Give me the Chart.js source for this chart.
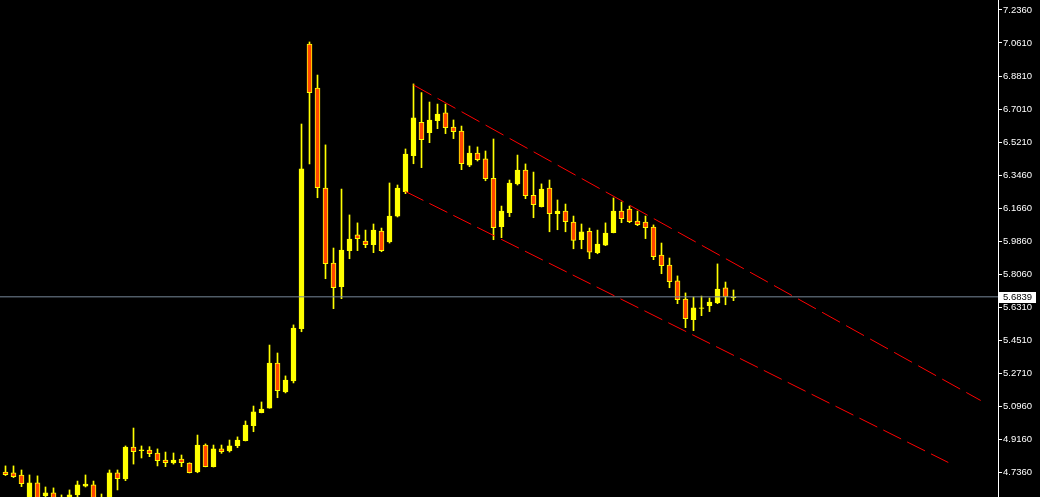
<!DOCTYPE html>
<html>
<head>
<meta charset="utf-8">
<script src="https://cdn.jsdelivr.net/npm/chart.js@4.4.1/dist/chart.umd.min.js"></script>
<style>
  html, body { margin: 0; padding: 0; background: #000; }
  #wrap { width: 1040px; height: 497px; }
</style>
</head>
<body>
<div id="wrap"><canvas id="priceChart" width="1040" height="497"></canvas></div>
<script>
// candles, oldest first (one per bar)
var opens = [4.736,4.731,4.720,4.585,4.677,4.606,4.623,4.531,4.574,4.612,
  4.660,4.666,4.558,4.585,4.731,4.698,4.871,4.851,4.855,4.839,
  4.801,4.785,4.806,4.785,4.736,4.882,4.765,4.861,4.850,4.878,
  4.905,4.987,5.057,5.082,5.326,5.169,5.229,5.512,7.052,6.814,
  6.273,5.867,5.739,5.934,6.019,5.986,5.966,6.040,5.981,6.121,
  6.253,6.448,6.628,6.572,6.637,6.679,6.603,6.581,6.397,6.462,
  6.430,6.325,6.063,6.139,6.295,6.370,6.233,6.172,6.273,6.134,
  6.148,6.089,5.993,6.039,5.923,5.964,6.031,6.148,6.159,6.094,
  6.089,6.062,5.910,5.856,5.770,5.672,5.560,5.621,5.636,5.651,
  5.732,5.679];
var highs = [4.769,4.769,4.747,4.720,4.715,4.655,4.650,4.612,4.639,4.687,
  4.720,4.687,4.617,4.747,4.747,4.877,4.974,4.877,4.873,4.861,
  4.844,4.839,4.828,4.786,4.936,4.888,4.882,4.882,4.909,4.926,
  5.012,5.093,5.115,5.423,5.380,5.256,5.532,6.619,7.063,6.884,
  6.506,5.948,6.267,6.127,6.084,6.045,6.078,6.056,6.300,6.289,
  6.484,6.836,6.789,6.738,6.727,6.727,6.641,6.608,6.500,6.495,
  6.473,6.538,6.175,6.316,6.451,6.403,6.359,6.295,6.316,6.208,
  6.186,6.121,6.078,6.056,6.045,6.084,6.219,6.197,6.175,6.148,
  6.121,6.073,5.975,5.894,5.797,5.705,5.683,5.688,5.678,5.862,
  5.764,5.721];
var lows = [4.717,4.706,4.657,4.563,4.568,4.590,4.563,4.503,4.552,4.595,
  4.655,4.568,4.541,4.574,4.639,4.689,4.779,4.812,4.819,4.769,
  4.765,4.779,4.765,4.731,4.732,4.764,4.763,4.837,4.844,4.868,
  4.904,4.954,5.056,5.081,5.138,5.164,5.218,5.495,6.403,6.220,
  5.782,5.620,5.674,5.890,5.934,5.950,5.923,5.928,5.975,6.116,
  6.242,6.404,6.383,6.518,6.594,6.567,6.540,6.372,6.388,6.419,
  6.312,5.993,6.004,6.118,6.289,6.215,6.112,6.170,6.036,6.047,
  6.036,5.944,5.944,5.890,5.917,5.961,6.030,6.085,6.085,6.069,
  5.999,5.885,5.809,5.733,5.647,5.517,5.501,5.582,5.604,5.647,
  5.641,5.663];
var closes = [4.722,4.711,4.673,4.677,4.590,4.623,4.585,4.585,4.612,4.666,
  4.671,4.585,4.595,4.731,4.700,4.871,4.846,4.856,4.835,4.797,
  4.786,4.801,4.786,4.732,4.882,4.765,4.861,4.846,4.878,4.909,
  4.990,5.061,5.077,5.326,5.176,5.234,5.515,6.376,6.789,6.275,
  5.863,5.733,5.937,5.997,5.999,5.966,6.045,5.934,6.121,6.273,
  6.457,6.652,6.534,6.641,6.673,6.599,6.578,6.404,6.462,6.426,
  6.323,6.058,6.148,6.300,6.370,6.231,6.183,6.267,6.134,6.148,
  6.091,5.989,6.035,5.925,5.970,6.029,6.148,6.107,6.091,6.074,
  6.058,5.901,5.852,5.766,5.668,5.566,5.624,5.625,5.656,5.726,
  5.685,5.6839];

// trend lines drawn on the chart: [bar index, price]
var upperLine = [[51, 6.8302], [121.9, 5.1230]];
var lowerLine = [[50, 6.2539], [117.85, 4.7875]];

var lastPrice = 5.6839;
var tickLabels = ["7.2360","7.0610","6.8810","6.7010","6.5210","6.3460","6.1660","5.9860",
  "5.8060","5.6310","5.4510","5.2710","5.0960","4.9160","4.7360"];

var bullColor = '#FFFF00';
var bearColor = '#FF4500';

function makeBodies() {
  return opens.map(function (o, i) { return { x: i, y: [o, closes[i]] }; });
}
function makeWicks() {
  return lows.map(function (l, i) { return { x: i, y: [l, highs[i]] }; });
}
function makeLine(pts) {
  return pts.map(function (p) { return { x: p[0], y: p[1] }; });
}

// ticks sit evenly between the first and last label
var tickTop = parseFloat(tickLabels[0]);
var tickBottom = parseFloat(tickLabels[tickLabels.length - 1]);
var tickStep = (tickTop - tickBottom) / (tickLabels.length - 1);

var xMin = -0.6875, xMax = 124.0625;

var priceTag = {
  id: 'priceTag',
  afterDraw: function (chart) {
    var ctx = chart.ctx;
    var y = chart.scales.y.getPixelForValue(lastPrice);
    ctx.save();
    ctx.fillStyle = '#FFFFFF';
    ctx.fillRect(999, Math.round(y) - 5, 37, 11);
    ctx.fillStyle = '#000000';
    ctx.font = '9.5px "Liberation Sans"';
    ctx.textBaseline = 'middle';
    ctx.fillText(lastPrice.toFixed(4), 1003, Math.round(y) + 0.5);
    ctx.restore();
  }
};

var chart = new Chart(document.getElementById('priceChart'), {
  type: 'bar',
  data: {
    datasets: [
      {
        type: 'line',
        data: makeLine(upperLine),
        borderColor: '#FF0000',
        borderWidth: 1,
        borderDash: [20.5, 7],
        pointRadius: 0,
        order: -2
      },
      {
        type: 'line',
        data: makeLine(lowerLine),
        borderColor: '#FF0000',
        borderWidth: 1,
        borderDash: [20, 6.7],
        pointRadius: 0,
        order: -2
      },
      {
        type: 'line',
        data: [{ x: xMin, y: lastPrice }, { x: xMax, y: lastPrice }],
        borderColor: '#778899',
        borderWidth: 1,
        pointRadius: 0,
        order: -1
      },
      {
        data: makeBodies(),
        grouped: false,
        barThickness: 5,
        backgroundColor: function (c) {
          var i = c.dataIndex;
          return closes[i] >= opens[i] ? bullColor : bearColor;
        },
        borderColor: bullColor,
        borderWidth: 1,
        borderSkipped: false,
        order: 0
      },
      {
        data: makeWicks(),
        grouped: false,
        barThickness: 1,
        backgroundColor: bullColor,
        borderWidth: 0,
        order: 1
      }
    ]
  },
  options: {
    responsive: false,
    animation: false,
    layout: { padding: 0 },
    plugins: {
      legend: { display: false },
      tooltip: { enabled: false }
    },
    scales: {
      x: {
        type: 'linear',
        min: xMin,
        max: xMax,
        offset: false,
        display: false
      },
      y: {
        position: 'right',
        min: 4.6008,
        max: 7.2901,
        afterFit: function (scale) {
          scale.width = 42;
          scale.paddingTop = 0;      // labels never reach the ends, so no room kept for them
          scale.paddingBottom = 0;
        },
        afterBuildTicks: function (scale) {
          scale.ticks = tickLabels.map(function (t, k) {
            return { value: tickTop - k * tickStep };
          });
        },
        border: { display: true, color: '#FFFFFF', width: 1 },
        grid: {
          drawOnChartArea: false,
          drawTicks: true,
          tickLength: 4,
          color: '#FFFFFF'
        },
        ticks: {
          autoSkip: false,
          padding: 1,
          color: '#FFFFFF',
          font: { family: 'Liberation Sans', size: 9.5 },
          callback: function (v, i) { return tickLabels[i]; }
        }
      }
    }
  },
  plugins: [priceTag]
});
</script>
</body>
</html>
